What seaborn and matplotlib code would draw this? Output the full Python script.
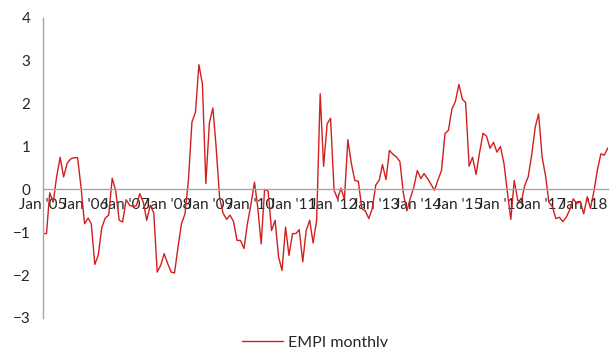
import seaborn as sns
import matplotlib.pyplot as plt
import matplotlib.dates as mdates
import pandas as pd

# EMPI monthly, Jan 2005 - Aug 2018
empi = [
    -1.03, -1.03, -0.08, -0.30, 0.30, 0.75, 0.29, 0.61, 0.71, 0.74, 0.74, 0.05,   # 2005
    -0.80, -0.67, -0.80, -1.75, -1.54, -0.90, -0.67, -0.60, 0.26, -0.02, -0.72, -0.76,  # 2006
    -0.24, -0.37, -0.40, -0.38, -0.10, -0.30, -0.72, -0.37, -0.55, -1.93, -1.77, -1.50,  # 2007
    -1.73, -1.93, -1.95, -1.34, -0.80, -0.57, 0.21, 1.57, 1.80, 2.91, 2.46, 0.14,   # 2008
    1.55, 1.90, 1.00, -0.20, -0.55, -0.70, -0.60, -0.75, -1.19, -1.19, -1.38, -0.80,  # 2009
    -0.35, 0.17, -0.40, -1.27, 0.00, -0.04, -0.96, -0.72, -1.58, -1.89, -0.88, -1.54,  # 2010
    -1.03, -1.03, -0.94, -1.69, -0.96, -0.72, -1.25, -0.72, 2.23, 0.54, 1.53, 1.66,  # 2011
    -0.02, -0.22, 0.03, -0.22, 1.16, 0.60, 0.21, 0.19, -0.45, -0.50, -0.68, -0.45,  # 2012
    0.10, 0.22, 0.58, 0.23, 0.91, 0.82, 0.76, 0.65, -0.10, -0.50, -0.20, 0.05,   # 2013
    0.44, 0.25, 0.37, 0.25, 0.12, -0.02, 0.22, 0.44, 1.30, 1.38, 1.88, 2.05,   # 2014
    2.45, 2.10, 2.03, 0.54, 0.75, 0.35, 0.85, 1.31, 1.24, 0.96, 1.10, 0.87,   # 2015
    1.00, 0.60, -0.05, -0.70, 0.21, -0.26, -0.30, 0.09, 0.30, 0.80, 1.45, 1.76,  # 2016
    0.75, 0.30, -0.30, -0.40, -0.68, -0.65, -0.75, -0.65, -0.47, -0.22, -0.33, -0.28,  # 2017
    -0.57, -0.17, -0.44, -0.04, 0.45, 0.83, 0.80, 0.97,   # 2018
]
dates = pd.date_range("2005-01-01", periods=len(empi), freq="MS")
yticks = [-3, -2, -1, 0, 1, 2, 3, 4]

df = pd.DataFrame({"date": dates, "EMPI monthly": empi})

sns.set_style("white")
plt.rcParams["font.family"] = ["Lato", "DejaVu Sans"]

fig = plt.figure(figsize=(6.14, 3.47), dpi=100)
ax = fig.add_axes([0.070, 0.0836, 0.920, 0.8646])

sns.lineplot(data=df, x="date", y="EMPI monthly", color="#d01f1f",
             linewidth=1.0, ax=ax, label="EMPI monthly", legend=False)

ax.set_xlim(dates[0], dates[-1])
ax.set_ylim(-3, 4)
ax.set_yticks(yticks)
ax.set_xlabel("")
ax.set_ylabel("")

ax.xaxis.set_major_locator(mdates.YearLocator())
ax.xaxis.set_major_formatter(mdates.DateFormatter("Jan '%y"))

for s in ["top", "right"]:
    ax.spines[s].set_visible(False)
ax.spines["bottom"].set_position(("data", 0))
for s in ["bottom", "left"]:
    ax.spines[s].set_color("#a6a6a6")
    ax.spines[s].set_linewidth(1.0)

ax.tick_params(axis="both", which="major", direction="out", length=4,
               color="#a6a6a6", labelsize=11, labelcolor="#262626")
ax.tick_params(axis="x", pad=2)
ax.tick_params(axis="y", pad=5)

handles, labels = ax.get_legend_handles_labels()
fig.legend(handles, labels, loc="center", bbox_to_anchor=(0.513, 0.012),
           frameon=False, fontsize=11.5, handlelength=2.6, handletextpad=0.3,
           labelcolor="#262626")

plt.savefig("out.png", dpi=100)
